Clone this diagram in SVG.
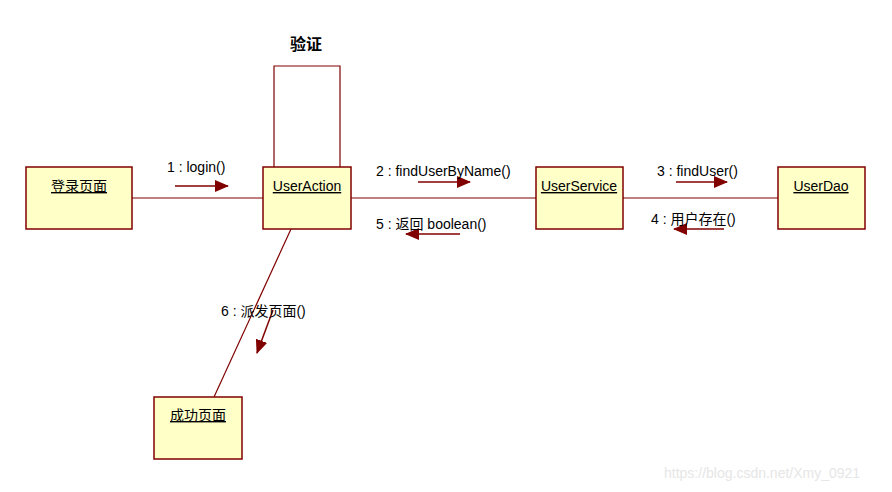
<svg xmlns="http://www.w3.org/2000/svg" width="892" height="492" viewBox="0 0 892 492">
<style>
.box{fill:#ffffc8;stroke:#800000;stroke-width:1.5}
.ln{stroke:#800000;stroke-width:1.2;fill:none}
.msg{stroke:#800000;stroke-width:1.5;fill:none}
.t{font-family:"Liberation Sans","Noto Sans CJK SC",sans-serif;font-size:14px;fill:#000}
.u{text-decoration:underline}
</style>
<defs>
<marker id="ah" markerWidth="14" markerHeight="12" refX="13" refY="6" orient="auto" markerUnits="userSpaceOnUse">
<path d="M0,0 L14,6 L0,12 z" fill="#800000"/>
</marker>
</defs>
<rect width="892" height="492" fill="#fff"/>
<g id="connectors">
<line class="ln" x1="132" y1="198" x2="263" y2="198"/>
<line class="ln" x1="351" y1="198" x2="536" y2="198"/>
<line class="ln" x1="623" y1="198" x2="778" y2="198"/>
<line class="ln" x1="291" y1="229" x2="214" y2="397"/>
<polyline class="ln" points="274,167 274,66 340,66 340,167"/>
<text class="t" x="290" y="50" style="font-size:16px;font-weight:bold">验证</text>
<line class="msg" x1="175" y1="186" x2="228" y2="186" marker-end="url(#ah)"/>
<text class="t" x="167" y="172">1 : login()</text>
<line class="msg" x1="418" y1="182" x2="470" y2="182" marker-end="url(#ah)"/>
<text class="t" x="376" y="176">2 : findUserByName()</text>
<line class="msg" x1="676" y1="182" x2="727" y2="182" marker-end="url(#ah)"/>
<text class="t" x="657" y="176">3 : findUser()</text>
<line class="msg" x1="724" y1="229" x2="674" y2="229" marker-end="url(#ah)"/>
<text class="t" x="651" y="224">4 : 用户存在()</text>
<line class="msg" x1="460" y1="234" x2="406" y2="234" marker-end="url(#ah)"/>
<text class="t" x="376" y="229">5 : 返回 boolean()</text>
<line class="msg" x1="273" y1="310" x2="257" y2="353" marker-end="url(#ah)"/>
<text class="t" x="221" y="316">6 : 派发页面()</text>
</g>
<g id="n-login">
<rect class="box" x="26" y="167" width="106" height="62"/>
<text class="t u" x="79" y="191" text-anchor="middle">登录页面</text>
</g>
<g id="n-useraction">
<rect class="box" x="263" y="167" width="88" height="62"/>
<text class="t u" x="307" y="191" text-anchor="middle">UserAction</text>
</g>
<g id="n-userservice">
<rect class="box" x="536" y="167" width="87" height="62"/>
<text class="t u" x="579" y="191" text-anchor="middle">UserService</text>
</g>
<g id="n-userdao">
<rect class="box" x="778" y="167" width="87" height="62"/>
<text class="t u" x="821" y="191" text-anchor="middle">UserDao</text>
</g>
<g id="n-success">
<rect class="box" x="154" y="397" width="88" height="62"/>
<text class="t u" x="198" y="420" text-anchor="middle">成功页面</text>
</g>
<text x="664" y="478" style="font-family:'Liberation Sans',sans-serif;font-size:14px;fill:#e6e6e6">https://blog.csdn.net/Xmy_0921</text>
</svg>
